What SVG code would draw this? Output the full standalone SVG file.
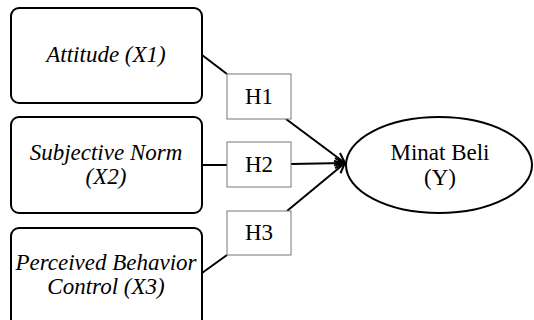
<svg xmlns="http://www.w3.org/2000/svg" width="534" height="320" viewBox="0 0 534 320">
<style>
.var{fill:#fff;stroke:#000;stroke-width:2}
.hyp{fill:#fff;stroke:#777;stroke-width:1}
text{font-family:'Liberation Serif','Times New Roman',serif;font-size:23px;fill:#000;text-anchor:middle}
.it{font-style:italic}
.c{fill:none;stroke:#000;stroke-width:2}
</style>
<defs>
<marker id="arr" viewBox="0 0 12 12" refX="11" refY="6" markerWidth="12" markerHeight="12" markerUnits="userSpaceOnUse" orient="auto">
<path d="M1,1 L11,6 L1,11" fill="none" stroke="#000" stroke-width="2"/>
</marker>
</defs>
<rect width="534" height="320" fill="#fff"/>
<g id="connectors">
<line class="c" x1="202" y1="55" x2="227" y2="74"/>
<line class="c" x1="202" y1="165" x2="227" y2="165"/>
<line class="c" x1="202" y1="273" x2="227" y2="255"/>
<line class="c" x1="286" y1="119" x2="345" y2="163" marker-end="url(#arr)"/>
<line class="c" x1="291" y1="164" x2="345" y2="163" marker-end="url(#arr)"/>
<line class="c" x1="287" y1="211" x2="345" y2="163" marker-end="url(#arr)"/>
</g>
<g id="x1">
<rect class="var" x="11" y="8" width="191" height="95" rx="8"/>
<text class="it" x="106" y="62">Attitude (X1)</text>
</g>
<g id="x2">
<rect class="var" x="11" y="117" width="191" height="96" rx="8"/>
<text class="it" x="106" y="160">Subjective Norm</text>
<text class="it" x="106" y="184">(X2)</text>
</g>
<g id="x3">
<rect class="var" x="11" y="228" width="191" height="100" rx="8"/>
<text class="it" x="106" y="270">Perceived Behavior</text>
<text class="it" x="106" y="294">Control (X3)</text>
</g>
<g id="h1">
<rect class="hyp" x="227" y="74" width="64" height="45"/>
<text x="259" y="104">H1</text>
</g>
<g id="h2">
<rect class="hyp" x="227" y="142" width="64" height="45"/>
<text x="259" y="172">H2</text>
</g>
<g id="h3">
<rect class="hyp" x="227" y="211" width="64" height="44"/>
<text x="259" y="240">H3</text>
</g>
<g id="y">
<ellipse class="var" cx="439" cy="165" rx="93" ry="48"/>
<text x="440" y="160">Minat Beli</text>
<text x="440" y="185">(Y)</text>
</g>
</svg>
